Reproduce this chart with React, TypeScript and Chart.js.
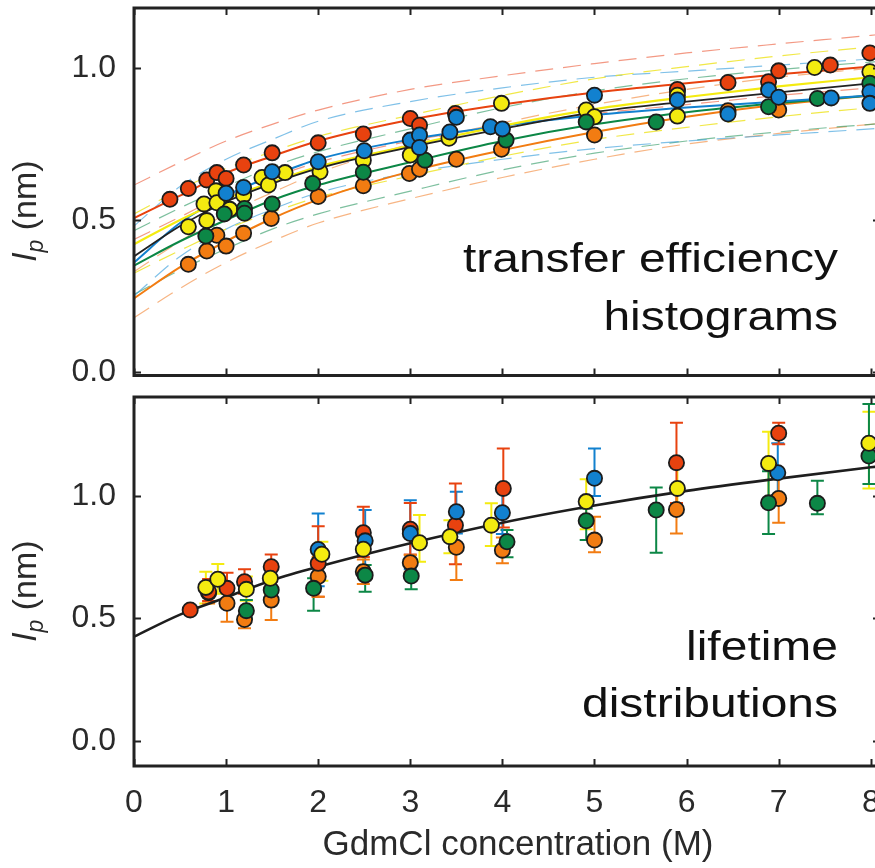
import React, { useEffect, useRef } from 'react';
import { Chart, registerables } from 'chart.js';

Chart.register(...registerables);

const FONT = '"Liberation Sans", Arial, Helvetica, sans-serif';

// ---------- axes ----------
const X_TICKS = [0, 1, 2, 3, 4, 5, 6, 7, 8];
const Y_TICKS = [0, 0.5, 1.0];
const X_MIN = 0;
const X_MAX = 8.1;
const TOP_Y_MIN = -0.012;
const TOP_Y_MAX = 1.198;
const BOT_Y_MIN = -0.103;
const BOT_Y_MAX = 1.403;

// ---------- colours ----------
const RED = '#e8420f';
const ORANGE = '#f27c12';
const YELLOW = '#f4eb10';
const GREEN = '#0c8746';
const BLUE = '#1281cf';

const RED_DASH = 'rgba(238,110,80,0.7)';
const ORANGE_DASH = 'rgba(244,150,80,0.7)';
const YELLOW_DASH = 'rgba(238,228,40,0.85)';
const GREEN_DASH = 'rgba(40,150,95,0.6)';
const BLUE_DASH = 'rgba(60,160,220,0.65)';

// ---------- top panel: fitted curves (transfer efficiency histograms) ----------
const FIT_X = [0, 0.5, 1, 1.5, 2, 3, 4, 5, 6, 7, 8, 8.1];

const RED_FIT = [0.506, 0.58, 0.655, 0.71, 0.76, 0.83, 0.88, 0.92, 0.95, 0.98, 1.005, 1.008];
const RED_UP = [0.615, 0.69, 0.76, 0.815, 0.862, 0.93, 0.975, 1.015, 1.05, 1.08, 1.108, 1.111];
const RED_LO = [0.436, 0.51, 0.585, 0.64, 0.69, 0.76, 0.81, 0.85, 0.88, 0.91, 0.935, 0.938];

const YEL_FIT = [0.42, 0.5, 0.57, 0.625, 0.675, 0.745, 0.81, 0.865, 0.905, 0.94, 0.97, 0.973];
const YEL_UP = [0.52, 0.6, 0.67, 0.725, 0.775, 0.845, 0.91, 0.965, 1.005, 1.04, 1.07, 1.073];
const YEL_LO = [0.325, 0.4, 0.47, 0.525, 0.575, 0.645, 0.71, 0.765, 0.805, 0.84, 0.87, 0.873];

const BLU_FIT = [0.36, 0.49, 0.58, 0.645, 0.7, 0.765, 0.81, 0.845, 0.87, 0.89, 0.91, 0.912];
const BLU_UP = [0.48, 0.61, 0.7, 0.765, 0.825, 0.89, 0.935, 0.97, 0.99, 1.01, 1.03, 1.032];
const BLU_LO = [0.25, 0.38, 0.47, 0.535, 0.59, 0.655, 0.7, 0.735, 0.76, 0.78, 0.8, 0.802];

const GRN_FIT = [0.35, 0.43, 0.5, 0.565, 0.615, 0.69, 0.76, 0.815, 0.855, 0.885, 0.91, 0.912];
const GRN_UP = [0.465, 0.54, 0.61, 0.675, 0.725, 0.8, 0.87, 0.925, 0.965, 0.995, 1.02, 1.022];
const GRN_LO = [0.255, 0.335, 0.405, 0.47, 0.52, 0.595, 0.665, 0.72, 0.76, 0.79, 0.815, 0.817];

const ORG_FIT = [0.242, 0.345, 0.43, 0.505, 0.567, 0.66, 0.73, 0.79, 0.84, 0.88, 0.91, 0.913];
const ORG_UP = [0.33, 0.43, 0.52, 0.59, 0.655, 0.75, 0.82, 0.88, 0.93, 0.97, 1.0, 1.003];
const ORG_LO = [0.178, 0.275, 0.36, 0.43, 0.49, 0.57, 0.64, 0.7, 0.75, 0.785, 0.815, 0.818];

const BLK_FIT = [0.38, 0.48, 0.56, 0.62, 0.67, 0.74, 0.8, 0.855, 0.89, 0.92, 0.95, 0.953];

// ---------- top panel: measured points ----------
const RED_TOP_X = [0.39, 0.59, 0.79, 0.9, 1.0, 1.19, 1.5, 2.0, 2.49, 3.0, 3.1, 3.49, 5.9, 6.45, 6.89, 7.0, 7.56, 7.99];
const RED_TOP_Y = [0.568, 0.604, 0.632, 0.656, 0.637, 0.681, 0.721, 0.754, 0.783, 0.834, 0.812, 0.851, 0.93, 0.953, 0.955, 0.991, 1.01, 1.05];

const ORG_TOP_X = [0.59, 0.79, 0.9, 1.0, 1.19, 1.49, 2.0, 2.49, 2.99, 3.1, 3.5, 3.99, 5.0, 5.9, 6.45, 7.0];
const ORG_TOP_Y = [0.354, 0.398, 0.45, 0.414, 0.456, 0.505, 0.577, 0.613, 0.653, 0.667, 0.7, 0.733, 0.78, 0.925, 0.86, 0.862];

const YEL_TOP_X = [0.59, 0.79, 0.76, 0.89, 0.9, 1.04, 1.19, 1.39, 1.46, 1.64, 2.02, 2.49, 3.0, 3.42, 3.99, 4.91, 5.0, 5.9, 5.9, 7.39, 7.99];
const YEL_TOP_Y = [0.478, 0.498, 0.553, 0.596, 0.557, 0.535, 0.582, 0.64, 0.615, 0.656, 0.659, 0.697, 0.714, 0.769, 0.884, 0.862, 0.84, 0.842, 0.911, 1.002, 0.988];

const BLU_TOP_X = [1.0, 1.19, 1.5, 2.0, 2.5, 3.0, 3.1, 3.1, 3.43, 3.5, 3.87, 4.0, 5.0, 5.9, 6.45, 6.89, 7.0, 7.57, 7.99, 7.99];
const BLU_TOP_Y = [0.588, 0.607, 0.659, 0.692, 0.728, 0.763, 0.78, 0.739, 0.79, 0.838, 0.807, 0.8, 0.911, 0.895, 0.849, 0.928, 0.904, 0.902, 0.922, 0.884];

const GRN_TOP_X = [0.78, 0.98, 1.2, 1.2, 1.5, 1.94, 2.49, 3.16, 4.04, 4.91, 5.67, 6.89, 7.42, 7.99];
const GRN_TOP_Y = [0.447, 0.52, 0.538, 0.522, 0.553, 0.62, 0.657, 0.697, 0.763, 0.823, 0.823, 0.873, 0.9, 0.95];

// ---------- bottom panel: fitted curve (lifetime distributions) ----------
const BOT_FIT = [0.425, 0.515, 0.585, 0.655, 0.71, 0.806, 0.89, 0.96, 1.02, 1.07, 1.116, 1.12];

// ---------- bottom panel: points with error bars ----------
const RED_B_X = [0.61, 0.81, 1.01, 1.2, 1.49, 2.0, 2.49, 3.0, 3.49, 4.01, 5.89, 7.0];
const RED_B_Y = [0.534, 0.608, 0.622, 0.649, 0.71, 0.724, 0.849, 0.863, 0.88, 1.03, 1.135, 1.255];
const RED_B_LO = [0.534, 0.57, 0.58, 0.6, 0.66, 0.588, 0.75, 0.76, 0.72, 0.87, 0.97, 1.21];
const RED_B_HI = [0.534, 0.66, 0.686, 0.7, 0.76, 0.876, 0.955, 0.97, 1.05, 1.193, 1.298, 1.298];

const ORG_B_X = [0.81, 1.01, 1.2, 1.49, 2.0, 2.49, 3.0, 3.5, 4.0, 5.0, 5.89, 7.0];
const ORG_B_Y = [0.604, 0.561, 0.495, 0.574, 0.67, 0.69, 0.727, 0.79, 0.778, 0.819, 0.944, 0.989];
const ORG_B_LO = [0.56, 0.486, 0.459, 0.493, 0.588, 0.64, 0.69, 0.656, 0.724, 0.769, 0.846, 0.89];
const ORG_B_HI = [0.65, 0.63, 0.53, 0.65, 0.75, 0.74, 0.758, 0.92, 0.83, 0.914, 1.04, 1.09];

const YEL_B_X = [0.78, 0.91, 1.22, 1.48, 2.04, 2.49, 3.1, 3.43, 3.88, 4.91, 5.9, 6.89, 7.98];
const YEL_B_Y = [0.626, 0.659, 0.618, 0.663, 0.761, 0.782, 0.808, 0.833, 0.88, 0.976, 1.03, 1.132, 1.214];
const YEL_B_LO = [0.56, 0.6, 0.571, 0.6, 0.653, 0.686, 0.731, 0.765, 0.795, 0.863, 0.953, 0.969, 1.03];
const YEL_B_HI = [0.69, 0.721, 0.67, 0.717, 0.812, 0.84, 0.921, 0.9, 0.969, 1.067, 1.143, 1.261, 1.343];

const BLU_B_X = [2.0, 2.51, 3.0, 3.5, 4.0, 5.0, 6.99];
const BLU_B_Y = [0.781, 0.816, 0.846, 0.935, 0.931, 1.071, 1.094];
const BLU_B_LO = [0.631, 0.68, 0.7, 0.846, 0.844, 0.999, 1.003];
const BLU_B_HI = [0.928, 0.942, 0.982, 1.016, 1.023, 1.193, 1.214];

const GRN_B_X = [1.22, 1.49, 1.95, 2.51, 3.01, 4.05, 4.91, 5.67, 6.89, 7.42, 7.98];
const GRN_B_Y = [0.531, 0.615, 0.622, 0.676, 0.672, 0.812, 0.898, 0.942, 0.971, 0.969, 1.162];
const GRN_B_LO = [0.5, 0.57, 0.531, 0.608, 0.618, 0.749, 0.819, 0.767, 0.844, 0.924, 1.048];
const GRN_B_HI = [0.574, 0.66, 0.663, 0.717, 0.73, 0.86, 0.948, 1.034, 1.1, 1.061, 1.374];

// ---------- texts ----------
const TOP_NOTE = ['transfer efficiency', 'histograms'];
const BOT_NOTE = ['lifetime', 'distributions'];
const X_TITLE = 'GdmCl concentration (M)';

// ---------- helpers ----------
const pts = (xs: number[], ys: number[]) => xs.map((x, i) => ({ x, y: ys[i] }));

const scatterDs = (xs: number[], ys: number[], color: string, extra: any = {}) => ({
  type: 'scatter',
  data: pts(xs, ys),
  backgroundColor: color,
  borderColor: '#1c1c1c',
  borderWidth: 1.8,
  pointRadius: 7.6,
  pointHoverRadius: 7.6,
  showLine: false,
  ...extra,
});

const lineDs = (ys: number[], color: string, width: number, dash: number[] = []) => ({
  type: 'line',
  data: pts(FIT_X, ys),
  borderColor: color,
  backgroundColor: color,
  borderWidth: width,
  borderDash: dash,
  pointRadius: 0,
  pointHoverRadius: 0,
  fill: false,
  tension: 0.4,
  cubicInterpolationMode: 'monotone',
});

const zeroPad = (s: any) => {
  s.paddingTop = 0;
  s.paddingBottom = 0;
  s.paddingLeft = 0;
  s.paddingRight = 0;
};

const framePlugin = {
  id: 'frame',
  afterDraw(chart: any) {
    const { ctx, chartArea: a, scales } = chart;
    const TL = 7;
    ctx.save();
    ctx.strokeStyle = '#222';
    ctx.lineWidth = 2;
    ctx.beginPath();
    X_TICKS.forEach((v) => {
      const px = Math.round(scales.x.getPixelForValue(v)) + 0.5;
      ctx.moveTo(px, a.bottom);
      ctx.lineTo(px, a.bottom - TL);
      ctx.moveTo(px, a.top);
      ctx.lineTo(px, a.top + TL);
    });
    Y_TICKS.forEach((v) => {
      const py = Math.round(scales.y.getPixelForValue(v)) + 0.5;
      ctx.moveTo(a.left, py);
      ctx.lineTo(a.left + TL, py);
      ctx.moveTo(a.right, py);
      ctx.lineTo(a.right - TL, py);
    });
    ctx.stroke();
    ctx.lineWidth = 3;
    ctx.strokeRect(a.left, a.top, a.right - a.left, a.bottom - a.top);
    ctx.restore();
  },
};

const errorBarPlugin = {
  id: 'errorBars',
  beforeDatasetsDraw(chart: any) {
    const { ctx, scales } = chart;
    ctx.save();
    ctx.lineWidth = 2;
    const cap = 6.5;
    chart.data.datasets.forEach((ds: any) => {
      if (!ds.errLo) return;
      ctx.strokeStyle = ds.backgroundColor;
      ctx.beginPath();
      ds.data.forEach((p: any, i: number) => {
        const px = scales.x.getPixelForValue(p.x);
        const lo = scales.y.getPixelForValue(ds.errLo[i]);
        const hi = scales.y.getPixelForValue(ds.errHi[i]);
        if (Math.abs(lo - hi) < 1) return;
        ctx.moveTo(px, lo);
        ctx.lineTo(px, hi);
        ctx.moveTo(px - cap, lo);
        ctx.lineTo(px + cap, lo);
        ctx.moveTo(px - cap, hi);
        ctx.lineTo(px + cap, hi);
      });
      ctx.stroke();
    });
    ctx.restore();
  },
};

const decorPlugin = {
  id: 'decor',
  afterDraw(chart: any, _args: any, opts: any) {
    const { ctx } = chart;
    ctx.save();
    ctx.fillStyle = '#111';
    ctx.textAlign = 'right';
    ctx.textBaseline = 'alphabetic';
    ctx.font = `41px ${FONT}`;
    (opts.notes || []).forEach((n: any) => {
      ctx.save();
      ctx.translate(n.x, n.y);
      ctx.scale(1.17, 1);
      ctx.fillText(n.text, 0, 0);
      ctx.restore();
    });
    if (opts.yTitle) {
      ctx.save();
      ctx.fillStyle = '#2a2a2a';
      ctx.translate(opts.yTitle.x, opts.yTitle.y);
      ctx.rotate(-Math.PI / 2);
      ctx.textAlign = 'left';
      ctx.font = `italic 34px ${FONT}`;
      ctx.fillText('l', 0, 0);
      let w = ctx.measureText('l').width;
      ctx.font = `italic 23px ${FONT}`;
      ctx.fillText('p', w + 1, 7);
      w += ctx.measureText('p').width + 1;
      ctx.font = `34px ${FONT}`;
      ctx.fillText(' (nm)', w, 0);
      ctx.restore();
    }
    if (opts.xTitle) {
      ctx.fillStyle = '#2a2a2a';
      ctx.textAlign = 'center';
      ctx.font = `35px ${FONT}`;
      ctx.fillText(opts.xTitle.text, opts.xTitle.x, opts.xTitle.y);
    }
    ctx.restore();
  },
};

const tickFont = { family: FONT, size: 32 };

const yScale = (min: number, max: number) => ({
  type: 'linear',
  min,
  max,
  afterFit: (s: any) => {
    s.width = 134;
    zeroPad(s);
  },
  afterBuildTicks: (s: any) => {
    s.ticks = Y_TICKS.map((v) => ({ value: v }));
  },
  grid: { display: false, drawTicks: false },
  border: { display: false },
  ticks: {
    font: tickFont,
    color: '#2a2a2a',
    padding: 18,
    autoSkip: false,
    callback: (v: any) => Number(v).toFixed(1),
  },
});

const baseOptions = {
  responsive: false,
  animation: false,
  devicePixelRatio: 1,
  events: [],
};

export default function App() {
  const topRef = useRef<HTMLCanvasElement>(null);
  const botRef = useRef<HTMLCanvasElement>(null);

  useEffect(() => {
    const topChart = new Chart(topRef.current as HTMLCanvasElement, {
      type: 'scatter',
      data: {
        datasets: [
          scatterDs(BLU_TOP_X, BLU_TOP_Y, BLUE),
          scatterDs(GRN_TOP_X, GRN_TOP_Y, GREEN),
          scatterDs(YEL_TOP_X, YEL_TOP_Y, YELLOW),
          scatterDs(RED_TOP_X, RED_TOP_Y, RED),
          scatterDs(ORG_TOP_X, ORG_TOP_Y, ORANGE),
          lineDs(BLK_FIT, '#222', 1.8),
          lineDs(RED_FIT, RED, 2),
          lineDs(YEL_FIT, YELLOW, 2.2),
          lineDs(BLU_FIT, BLUE, 2),
          lineDs(GRN_FIT, GREEN, 2),
          lineDs(ORG_FIT, ORANGE, 2),
          lineDs(RED_UP, RED_DASH, 1.2, [18, 10]),
          lineDs(RED_LO, RED_DASH, 1.2, [18, 10]),
          lineDs(YEL_UP, YELLOW_DASH, 1.2, [18, 10]),
          lineDs(YEL_LO, YELLOW_DASH, 1.2, [18, 10]),
          lineDs(BLU_UP, BLUE_DASH, 1.2, [18, 10]),
          lineDs(BLU_LO, BLUE_DASH, 1.2, [18, 10]),
          lineDs(GRN_UP, GREEN_DASH, 1.2, [18, 10]),
          lineDs(GRN_LO, GREEN_DASH, 1.2, [18, 10]),
          lineDs(ORG_UP, ORANGE_DASH, 1.2, [18, 10]),
          lineDs(ORG_LO, ORANGE_DASH, 1.2, [18, 10]),
        ] as any,
      },
      options: {
        ...baseOptions,
        layout: { autoPadding: false, padding: { top: 8, bottom: 9.5, left: 0, right: 0 } },
        scales: {
          x: {
            type: 'linear',
            min: X_MIN,
            max: X_MAX,
            display: false,
            afterFit: zeroPad,
          },
          y: yScale(TOP_Y_MIN, TOP_Y_MAX),
        },
        plugins: {
          legend: { display: false },
          tooltip: { enabled: false },
          decor: {
            notes: [
              { text: TOP_NOTE[0], x: 838, y: 272 },
              { text: TOP_NOTE[1], x: 838, y: 330 },
            ],
            yTitle: { x: 36, y: 261 },
          },
        },
      } as any,
      plugins: [framePlugin, decorPlugin],
    });

    const errDs = (xs: number[], ys: number[], lo: number[], hi: number[], color: string) =>
      scatterDs(xs, ys, color, { errLo: lo, errHi: hi });

    const botChart = new Chart(botRef.current as HTMLCanvasElement, {
      type: 'scatter',
      data: {
        datasets: [
          errDs(YEL_B_X, YEL_B_Y, YEL_B_LO, YEL_B_HI, YELLOW),
          errDs(GRN_B_X, GRN_B_Y, GRN_B_LO, GRN_B_HI, GREEN),
          errDs(BLU_B_X, BLU_B_Y, BLU_B_LO, BLU_B_HI, BLUE),
          errDs(RED_B_X, RED_B_Y, RED_B_LO, RED_B_HI, RED),
          errDs(ORG_B_X, ORG_B_Y, ORG_B_LO, ORG_B_HI, ORANGE),
          lineDs(BOT_FIT, '#1e1e1e', 2.6),
        ] as any,
      },
      options: {
        ...baseOptions,
        layout: { autoPadding: false, padding: { top: 12, bottom: 0, left: 0, right: 0 } },
        scales: {
          x: {
            type: 'linear',
            min: X_MIN,
            max: X_MAX,
            afterFit: (s: any) => {
              s.height = 102;
              zeroPad(s);
            },
            afterBuildTicks: (s: any) => {
              s.ticks = X_TICKS.map((v) => ({ value: v }));
            },
            grid: { display: false, drawTicks: false },
            border: { display: false },
            ticks: {
              font: tickFont,
              color: '#2a2a2a',
              padding: 18,
              autoSkip: false,
              maxRotation: 0,
              callback: (v: any) => String(v),
            },
          },
          y: yScale(BOT_Y_MIN, BOT_Y_MAX),
        },
        plugins: {
          legend: { display: false },
          tooltip: { enabled: false },
          decor: {
            notes: [
              { text: BOT_NOTE[0], x: 838, y: 275 },
              { text: BOT_NOTE[1], x: 838, y: 332 },
            ],
            yTitle: { x: 36, y: 256 },
            xTitle: { text: X_TITLE, x: 518, y: 470 },
          },
        },
      } as any,
      plugins: [errorBarPlugin, framePlugin, decorPlugin],
    });

    return () => {
      topChart.destroy();
      botChart.destroy();
    };
  }, []);

  return (
    <div
      style={{
        position: 'fixed',
        left: 0,
        top: 0,
        width: 875,
        height: 868,
        overflow: 'hidden',
        background: '#fff',
      }}
    >
      <canvas
        ref={topRef}
        width={880}
        height={385}
        style={{ position: 'absolute', left: 0, top: 0, width: 880, height: 385 }}
      />
      <canvas
        ref={botRef}
        width={880}
        height={483}
        style={{ position: 'absolute', left: 0, top: 385, width: 880, height: 483 }}
      />
    </div>
  );
}
